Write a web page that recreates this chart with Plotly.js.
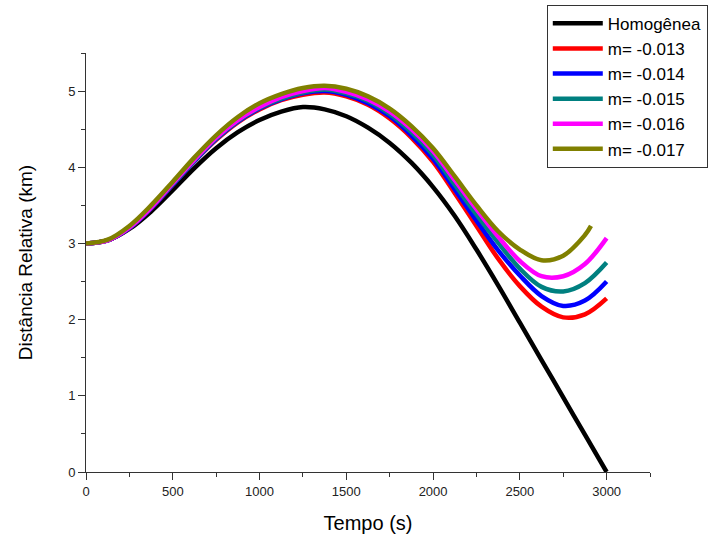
<!DOCTYPE html>
<html>
<head>
<meta charset="utf-8">
<script src="https://cdn.plot.ly/plotly-3.0.1.min.js"></script>
<style>html,body{margin:0;padding:0;background:#fff}#chart{width:724px;height:541px}</style>
</head>
<body>
<div id="chart"></div>
<script>
// Time (s)
const tempo = [0,125,250,375,500,625,750,875,1000,1125,1250,1375,1500,1625,1750,1875,2000,2125,2250,2375,2500,2625,2750,2875,3000];
const tempoOlive = [0,125,250,375,500,625,750,875,1000,1125,1250,1375,1500,1625,1750,1875,2000,2125,2250,2375,2500,2625,2750,2875,2910];

// Relative distance (km)
const homogenea = [3.00,3.04,3.19,3.42,3.70,3.99,4.25,4.46,4.62,4.73,4.79,4.76,4.67,4.52,4.32,4.06,3.74,3.36,2.92,2.45,1.96,1.47,0.98,0.49,0.00];
const m013 = [3.00,3.04,3.20,3.46,3.77,4.08,4.36,4.59,4.76,4.88,4.95,4.98,4.93,4.82,4.64,4.39,4.07,3.66,3.23,2.80,2.44,2.17,2.03,2.07,2.28];
const m014 = [3.00,3.04,3.20,3.46,3.77,4.08,4.37,4.60,4.77,4.89,4.97,5.00,4.95,4.84,4.67,4.42,4.11,3.71,3.30,2.91,2.58,2.31,2.18,2.25,2.50];
const m015 = [3.00,3.04,3.21,3.47,3.78,4.09,4.38,4.61,4.78,4.90,4.98,5.02,4.97,4.87,4.70,4.46,4.16,3.77,3.38,3.01,2.67,2.43,2.37,2.48,2.75];
const m016 = [3.00,3.04,3.21,3.47,3.79,4.10,4.39,4.62,4.79,4.92,5.00,5.04,4.99,4.89,4.73,4.50,4.21,3.83,3.45,3.09,2.77,2.57,2.57,2.73,3.07];
const m017 = [3.00,3.05,3.23,3.50,3.81,4.13,4.42,4.66,4.84,4.96,5.04,5.07,5.03,4.93,4.77,4.54,4.25,3.88,3.50,3.16,2.92,2.78,2.84,3.11,3.23];

const nomes = ['Homogênea','m= -0.013','m= -0.014','m= -0.015','m= -0.016','m= -0.017'];
const cores = ['#000000','#FF0000','#0000FF','#008080','#FF00FF','#808000'];
const series = [homogenea,m013,m014,m015,m016,m017];

const traces = series.map((ys,i)=>({
  x: i===5 ? tempoOlive : tempo,
  y: ys,
  name: nomes[i],
  type: 'scatter',
  mode: 'lines',
  line: {color: cores[i], width: 4.5, shape: 'spline', smoothing: 1}
}));

const fam = 'Liberation Sans, Arial, sans-serif';
const axisFont = {family: fam, size: 13, color: '#222'};

const layout = {
  width: 724, height: 541,
  margin: {l: 86, r: 74, t: 53, b: 69, autoexpand: false},
  paper_bgcolor: '#fff', plot_bgcolor: '#fff',
  showlegend: true,
  legend: {
    x: 0.817, y: 1.115, xanchor: 'left', yanchor: 'top',
    bgcolor: '#fff', bordercolor: '#333', borderwidth: 1,
    font: {family: fam, size: 17, color: '#000'},
    itemwidth: 50, tracegroupgap: 0
  },
  xaxis: {
    range: [0, 3250], showgrid: false, zeroline: false,
    showline: true, linecolor: '#333', linewidth: 1,
    ticks: 'outside', ticklen: 7, tickcolor: '#333', tickwidth: 1,
    tick0: 0, dtick: 500, tickfont: axisFont,
    minor: {ticks: 'outside', ticklen: 4, dtick: 250, tickcolor: '#333', showgrid: false},
    title: {text: 'Tempo (s)', font: {family: fam, size: 20, color: '#000'}, standoff: 18}
  },
  yaxis: {
    range: [0, 5.5], showgrid: false, zeroline: false,
    showline: true, linecolor: '#333', linewidth: 1,
    ticks: 'outside', ticklen: 7, tickcolor: '#333', tickwidth: 1,
    tick0: 0, dtick: 1, tickfont: axisFont,
    minor: {ticks: 'outside', ticklen: 4, dtick: 0.5, tickcolor: '#333', showgrid: false},
    title: {text: 'Distância Relativa (km)', font: {family: fam, size: 19, color: '#000'}, standoff: 30}
  }
};

Plotly.newPlot('chart', traces, layout, {displayModeBar: false, staticPlot: true});
</script>
</body>
</html>
